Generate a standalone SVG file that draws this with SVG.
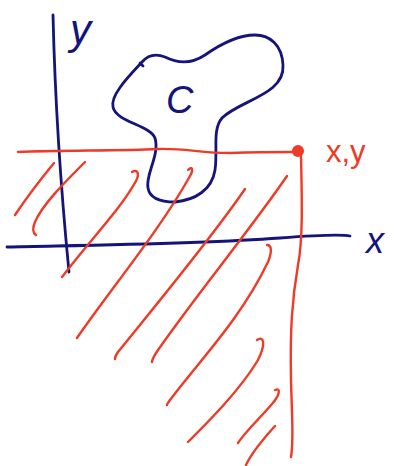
<svg xmlns="http://www.w3.org/2000/svg" width="394" height="466" viewBox="0 0 394 466">
<style>
.blue{fill:none;stroke:#14147a;stroke-width:2.8;stroke-linecap:round;stroke-linejoin:round}
.red{fill:none;stroke:#ee3a26;stroke-width:2.4;stroke-linecap:round;stroke-linejoin:round}
.lb{font-family:"Liberation Sans",sans-serif;fill:#14147a;font-style:italic}
.lr{font-family:"Liberation Sans",sans-serif;fill:#ee3a26}
</style>
<rect width="394" height="466" fill="#fff"/>
<g id="axes">
<path class="blue" d="M53,15 C55,100 60,180 69,272"/>
<path class="blue" d="M7,247 C100,245 200,244 280,238 C320,235 340,234 350,236"/>
</g>
<g id="region-C">
<path class="blue" d="M142,62 C130,75 110,95 113,107 C116,122 150,125 155,138 C160,155 145,175 148,188 C150,200 165,202 175,202 C195,200 212,190 215,170 C218,150 212,130 222,118 C240,100 285,95 283,65 C282,45 270,35 255,35 C235,35 215,48 205,55 C190,65 175,62 165,57 C155,53 148,55 142,62"/>
<path class="blue" d="M140,63 L143,66"/>
</g>
<g id="boundary">
<path class="red" d="M18,152 C60,150 120,151 157,149 C185,148 200,153 230,153 C260,152 280,152 296,152"/>
<path class="red" d="M301,156 C302,200 303,240 298,265 C292,300 290,330 291,380 C292,420 294,440 291,457"/>
<circle cx="298" cy="151" r="6" fill="#ee3a26"/>
</g>
<g id="hatching">
<path class="red" d="M54,163 C40,180 25,200 15,215"/>
<path class="red" d="M85,162 C65,182 42,205 35,222 C32,229 33,233 36,235"/>
<path class="red" d="M132,172 C137,169 140,173 136,181 C120,210 90,240 62,277"/>
<path class="red" d="M188,170 C192,166 194,169 190,176 C160,230 110,290 77,338"/>
<path class="red" d="M245,189 C210,240 160,300 118,352 C116,355 115,357 115,359"/>
<path class="red" d="M287,176 C250,230 200,290 158,350 C154,356 152,359 152,362"/>
<path class="red" d="M267,245 C272,245 272,252 268,262 C240,320 200,360 170,400 C168,403 167,404 167,405"/>
<path class="red" d="M257,340 C264,335 266,344 258,360 C240,390 210,420 188,442"/>
<path class="red" d="M275,390 C281,387 280,395 272,404 C260,418 245,432 238,443"/>
<path class="red" d="M275,426 C265,437 252,452 246,465"/>
</g>
<g id="labels">
<text class="lb" x="70" y="44" font-size="42">y</text>
<text class="lb" x="166" y="113" font-size="38">C</text>
<text class="lb" x="366" y="253" font-size="36">x</text>
<text class="lr" x="326" y="162" font-size="31">x,y</text>
</g>
</svg>
